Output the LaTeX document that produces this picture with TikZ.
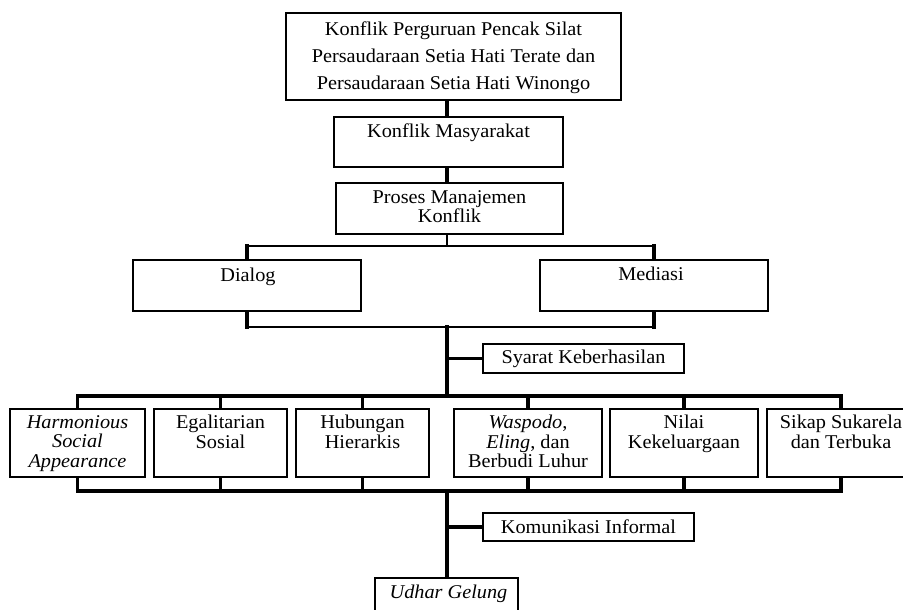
\documentclass[tikz,border=0pt]{standalone}
\usepackage{fontspec}
\setmainfont[FakeStretch=1.04]{Liberation Serif}
\begin{document}
\begin{tikzpicture}[x=1pt,y=-1pt,
  box/.style={draw=black, line width=2pt, fill=white, inner sep=0pt, anchor=north west},
  txt/.style={anchor=north, inner sep=0pt, align=center, font=\fontsize{19.5}{19.5}\selectfont},
  midtxt/.style={font=\fontsize{19.5}{19.5}\selectfont},
  lnthin/.style={line width=1.8pt, line cap=rect},
  lnthick/.style={line width=3.5pt, line cap=rect, line join=miter}]
\useasboundingbox (0,0) rectangle (903,610);
\fill[white] (0,0) rectangle (903,610);

% boxes
\node[box, minimum width=335, minimum height=87] (top) at (285,12) {};
\node[box, minimum width=229, minimum height=50] (mas) at (333,116) {};
\node[box, minimum width=227, minimum height=51] (pro) at (335,182) {};
\node[box, minimum width=228, minimum height=51] (dia) at (132,259) {};
\node[box, minimum width=228, minimum height=51] (med) at (539,259) {};
\node[box, midtxt, minimum width=201, minimum height=29] (sya) at (482,343) {Syarat Keberhasilan};
\node[box, minimum width=135, minimum height=68] (h1) at (9,408) {};
\node[box, minimum width=133, minimum height=68] (h2) at (153,408) {};
\node[box, minimum width=133, minimum height=68] (h3) at (295,408) {};
\node[box, minimum width=148, minimum height=68] (h4) at (453,408) {};
\node[box, minimum width=148, minimum height=68] (h5) at (609,408) {};
\node[box, minimum width=148, minimum height=68] (h6) at (766,408) {};
\node[box, midtxt, minimum width=211, minimum height=28] (kom) at (482,512) {Komunikasi Informal};
\node[box, minimum width=143, minimum height=48] (udh) at (374,577) {};

% texts
\node[txt, font=\fontsize{19.5}{27}\selectfont] (top-t) at ([yshift=-9.5pt]top.north)
  {Konflik Perguruan Pencak Silat\\Persaudaraan Setia Hati Terate dan\\Persaudaraan Setia Hati Winongo};
\node[txt] (mas-t) at ([yshift=-8pt]mas.north) {Konflik Masyarakat};
\node[txt] (pro-t) at ([yshift=-8pt]pro.north) {Proses Manajemen\\Konflik};
\node[txt] (dia-t) at ([xshift=1pt,yshift=-8.5pt]dia.north) {Dialog};
\node[txt] (med-t) at ([xshift=-3pt,yshift=-8pt]med.north) {Mediasi};
\node[txt] (h1-t) at ([yshift=-7pt]h1.north) {\textit{Harmonious}\\\textit{Social}\\\textit{Appearance}};
\node[txt] (h2-t) at ([yshift=-7pt]h2.north) {Egalitarian\\Sosial};
\node[txt] (h3-t) at ([yshift=-7pt]h3.north) {Hubungan\\Hierarkis};
\node[txt] (h4-t) at ([yshift=-7pt]h4.north) {\textit{Waspodo},\\\textit{Eling}, dan\\Berbudi Luhur};
\node[txt] (h5-t) at ([yshift=-7pt]h5.north) {Nilai\\Kekeluargaan};
\node[txt] (h6-t) at ([yshift=-7pt]h6.north) {Sikap Sukarela\\dan Terbuka};
\node[txt] (udh-t) at ([xshift=2pt,yshift=-8pt]udh.north) {\textit{Udhar Gelung}};

% spine coordinates
\coordinate (sp) at (447,0);
\coordinate (j1) at (447,246);
\coordinate (j2) at (447,327);
\coordinate (j3) at (447,396);
\coordinate (j4) at (447,491);

% connectors
\draw[lnthick] (top.south -| sp) -- (mas.north -| sp);
\draw[lnthick] (mas.south -| sp) -- (pro.north -| sp);
\draw[lnthin] (pro.south -| sp) -- (j1);
\draw[lnthin] (dia.north |- j1) -- (med.north |- j1);
\draw[lnthick] (dia.north |- j1) -- (dia.north);
\draw[lnthick] (med.north |- j1) -- (med.north);
\draw[lnthick] (dia.south) -- (dia.south |- j2);
\draw[lnthick] (med.south) -- (med.south |- j2);
\draw[lnthin] (dia.south |- j2) -- (med.south |- j2);
\draw[lnthick] (j2) -- (j3);
\draw[lnthick] (sya.west -| sp) -- (sya.west);
\draw[lnthick] (h1.north) -- (h1.north |- j3) -- (h6.north |- j3) -- (h6.north);
\draw[lnthick] (h1.south) -- (h1.south |- j4) -- (h6.south |- j4) -- (h6.south);
\foreach \h in {h2,h3,h4,h5} {
  \draw[lnthick] (\h.north |- j3) -- (\h.north);
  \draw[lnthick] (\h.south) -- (\h.south |- j4);
}
\draw[lnthick] (j4) -- (udh.north -| sp);
\draw[lnthick] (kom.west -| sp) -- (kom.west);
\end{tikzpicture}
\end{document}
